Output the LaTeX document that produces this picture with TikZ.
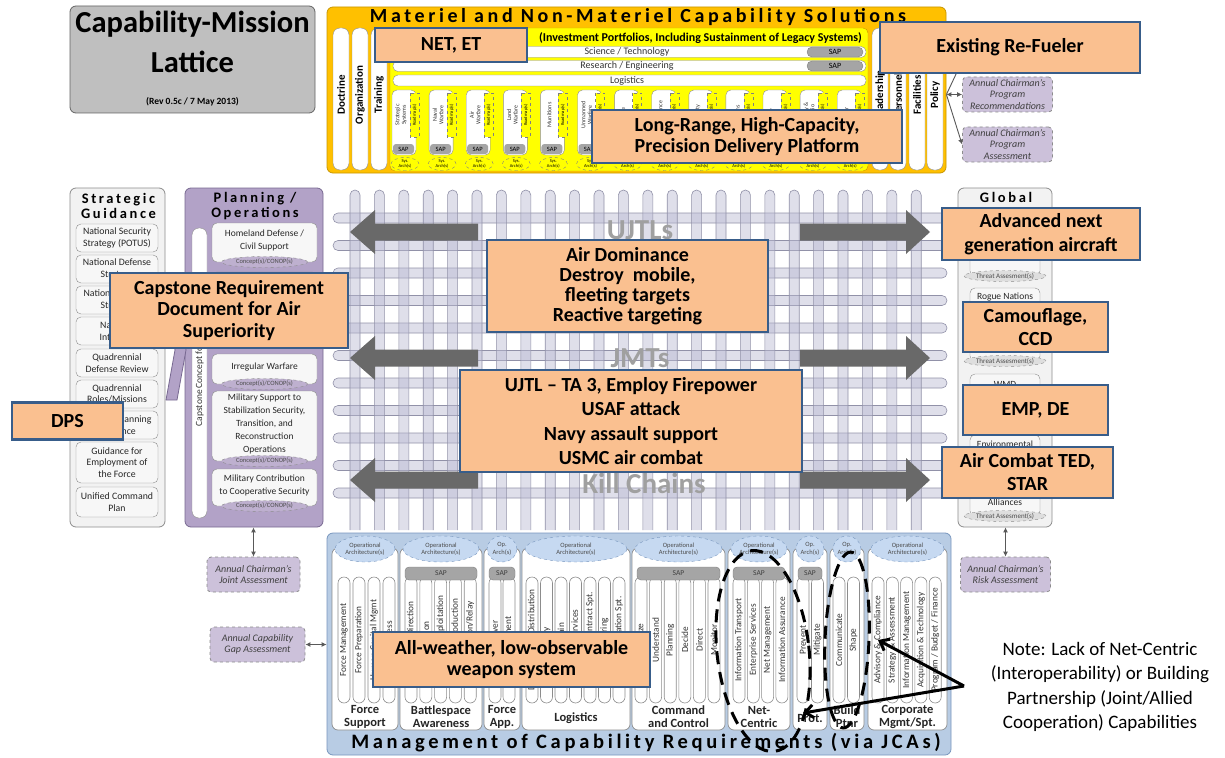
\documentclass[tikz,border=0pt]{standalone}
\usepackage{fontspec}
\setmainfont{Carlito}
\newfontfamily\widefont[LetterSpace=18]{Carlito}
\usetikzlibrary{shapes.geometric,arrows.meta}

\definecolor{titlegray}{RGB}{191,191,191}
\definecolor{titleline}{RGB}{100,100,100}
\definecolor{panelgold}{RGB}{255,192,0}
\definecolor{goldline}{RGB}{200,150,0}
\definecolor{brightyellow}{RGB}{255,255,0}
\definecolor{callfill}{RGB}{250,192,144}
\definecolor{callline}{RGB}{56,93,138}
\definecolor{lav}{RGB}{178,162,199}
\definecolor{lavline}{RGB}{120,105,145}
\definecolor{lavlight}{RGB}{204,193,218}
\definecolor{panelgray}{RGB}{242,242,242}
\definecolor{edgegray}{RGB}{140,140,140}
\definecolor{bluepanel}{RGB}{184,204,228}
\definecolor{blueline}{RGB}{120,150,190}
\definecolor{archblue}{RGB}{198,217,241}
\definecolor{barfill}{RGB}{185,185,210}
\definecolor{barline}{RGB}{145,145,168}
\definecolor{arrowgray}{RGB}{105,105,105}
\definecolor{ghostgray}{RGB}{160,160,160}
\definecolor{sapgray}{RGB}{165,165,165}

\newcommand\fsz[2]{\fontsize{#1}{#2}\selectfont}

\tikzset{
  callout/.style={draw=callline, line width=2.2pt, fill=callfill, align=center, inner sep=0pt, font=\bfseries\fsz{20}{21.5}},
  annual/.style={draw=edgegray, dashed, line width=0.8pt, fill=lavlight, rounded corners=4pt, align=center, inner sep=0pt, minimum width=90pt, minimum height=35pt, font=\itshape\fsz{10}{11.5}, text=black!75},
  sidepanel/.style={draw=edgegray, fill=panelgray, rounded corners=6pt, line width=0.8pt, inner sep=0pt},
  paneltitle/.style={font=\widefont\bfseries\fsz{14.5}{14.5}, align=center, inner sep=0pt},
  item/.style={draw=edgegray, fill=white!97!black, rounded corners=5pt, align=center, inner sep=0pt, font=\fsz{9.8}{11.5}, text=black!85},
  itemtext/.style={align=center, inner sep=0pt, font=\fsz{9.5}{13}, text=black!85},
  concept/.style={ellipse, draw=edgegray, dashed, fill=lav!85, inner sep=0pt, minimum height=11pt, font=\fsz{6.5}{7}, text=black!70},
  tallpill/.style={draw=edgegray, fill=white, inner sep=0pt},
  lattice/.style={draw=barline, fill=barfill, fill opacity=0.45, line width=0.6pt},
  fatarrow/.style={fill=arrowgray, draw=none},
  ghost/.style={text=ghostgray, font=\bfseries\fsz{29}{30}, inner sep=0pt},
  link/.style={draw=black!65, line width=0.9pt, {Latex[length=5pt,width=5pt]}-{Latex[length=5pt,width=5pt]}},
  onelink/.style={draw=black!65, line width=0.9pt, -{Latex[length=5pt,width=5pt]}},
  hoop/.style={draw=black, line width=3pt, dash pattern=on 13pt off 8pt},
  pointer/.style={draw=black, line width=3pt, -{Straight Barb[length=8pt,width=13pt]}},
  colbox/.style={draw=edgegray, fill=white, rounded corners=6pt, line width=0.7pt},
  pillbox/.style={draw=edgegray, fill=white, rounded corners=6pt, line width=0.6pt},
  pilltext/.style={rotate=90, inner sep=0pt, font=\fsz{9.3}{10}, text=black!80},
  sapbar/.style={fill=sapgray, draw=gray, rounded corners=4pt},
  saptext/.style={inner sep=0pt, font=\fsz{7.5}{8}, text=black!75},
  arch/.style={ellipse, draw=blueline, dashed, fill=archblue, inner sep=0pt, minimum height=26pt, align=center, font=\fsz{6.5}{7.5}, text=black!70},
  jcalabel/.style={align=center, inner sep=0pt, font=\bfseries\fsz{12.5}{13}, text=black!85},
}

% one JCA column of the requirements panel
% #1 name, #2 left, #3 right, #4 architecture text, #5 label, #6 SAP flag, #7 first pill, #8 pitch, #9 pill labels
\newcommand\jcacolumn[9]{%
  \draw[colbox] (#2,548) rectangle (#3,730);
  \foreach \lab [count=\k from 0] in {#9}{%
    \draw[pillbox] ({#7+#8*\k},577) rectangle ({#7+#8*\k+12},703);
    \node[pilltext] (#1-p\k) at ({#7+#8*\k+6},640) {\lab};
  }%
  \ifnum#6=1
    \draw[sapbar] ({#2+5},567) rectangle ({#3-5},580);
    \node[saptext] (#1-sap) at ({(#2+#3)/2},573) {SAP};
  \fi
  \node[arch, minimum width={#3-#2-6}] (#1-arch) at ({(#2+#3)/2},549) {#4};
  \node[jcalabel] (#1) at ({(#2+#3)/2},716.5) {#5};
}

% planning / operations entry with its concept ellipse
\newcommand\opitem[5]{%
  \node[item, minimum width=105pt, minimum height={#3-#2}] (#1) at (264.5,{(#2+#3)/2}) {};
  \node[itemtext] (#1-t) at (264.5,#4) {#5};
  \node[concept, minimum width=86pt] (#1-c) at (264.5,#3) {Concept(s)/CONOP(s)};
}

% global threat entry with its assessment ellipse
\newcommand\glitem[5]{%
  \node[item, minimum width=70pt, minimum height={#3-#2}] (#1) at (1005,{(#2+#3)/2}) {};
  \node[itemtext] (#1-t) at (1005,#4) {#5};
  \node[concept, fill=black!13, minimum width=70pt, font=\fsz{7}{7}] (#1-c) at (1005,#3) {Threat Assesment(s)};
}

\newcommand\sgitem[4]{%
  \node[item, minimum width=82pt, minimum height={#3-#2}] (#1) at (117,{(#2+#3)/2}) {#4};
}

\begin{document}
\begin{tikzpicture}[x=1pt,y=-1pt]
\useasboundingbox (0,0) rectangle (1225,757);
\fill[white] (0,0) rectangle (1225,757);

% ---------- title block ----------
\node[draw=titleline, fill=titlegray, rounded corners=6pt, line width=0.8pt, minimum width=245pt, minimum height=107pt, inner sep=0pt] (title) at (192.5,59.5) {};
\node[font=\bfseries\fsz{30.5}{40}, align=center, inner sep=0pt] (titletext) at (192.5,42) {Capability-Mission\\Lattice};
\node[font=\bfseries\fsz{9.5}{10}, inner sep=0pt] (rev) at (192.5,102) {(Rev 0.5c / 7 May 2013)};

% ---------- materiel and non-materiel solutions ----------
\node[draw=goldline, fill=panelgold, rounded corners=6pt, line width=0.8pt, minimum width=619pt, minimum height=166pt, inner sep=0pt] (msol) at (636.5,90) {};
\node[font=\widefont\bfseries\fsz{20}{20}, inner sep=0pt] (msoltitle) at (638,17) {Materiel and Non-Materiel Capability Solutions};

\foreach \nm/\px/\lab in {doc/333/Doctrine, org/352/Organization, trn/371/Training, lde/872/Leadership/Education, per/890/Personnel, fac/909/Facilities, pol/927/Policy}{
  \node[tallpill, rounded corners=7pt, minimum width=16pt, minimum height=142pt] (\nm) at (\px+8,99) {};
  \node[rotate=90, font=\bfseries\fsz{11}{12}, inner sep=0pt] (\nm-t) at (\px+8,95) {\lab};
}

\node[draw=goldline, fill=brightyellow, rounded corners=5pt, minimum width=478pt, minimum height=143pt, inner sep=0pt] (port) at (629,99.5) {};
\node[anchor=east, font=\bfseries\fsz{12}{13}, inner sep=0pt] (porthead) at (862,38) {(Investment Portfolios, Including Sustainment of Legacy Systems)};

\foreach \nm/\yy/\lab/\sap in {sci/52/{Science / Technology}/1, rne/66/{Research / Engineering}/1, lgs/80.5/{Logistics}/0}{
  \node[draw=edgegray, fill=white, rounded corners=5pt, minimum width=473pt, minimum height=11pt, inner sep=0pt] (\nm) at (629.5,\yy) {};
  \node[font=\fsz{10}{10}, inner sep=0pt, text=black!80] (\nm-t) at (627,\yy) {\lab};
  \ifnum\sap=1
    \node[fill=sapgray, draw=gray, rounded corners=5pt, minimum width=56pt, minimum height=10pt, inner sep=0pt, font=\fsz{8}{8}] (\nm-sap) at (835,\yy) {SAP};
  \fi
}

\foreach \lab [count=\k from 0] in {{Strategic\\Systems},{Naval\\Warfare},{Air\\Warfare},{Land\\Warfare},{Munitions},{Unmanned\\Warfare},{Space},{Intelligence},{Mobility},{C4\\Systems},{Cyber},{Mobility \&\\Portfolio},{Other}}{
  \pgfmathsetmacro\px{392+37.1*\k}
  \draw[draw=edgegray, fill=white, rounded corners=5pt] (\px,90) rectangle (\px+24,155);
  \draw[draw=gray, dashed, fill=brightyellow] (\px+18,93) rectangle (\px+27,137);
  \node[rotate=90, font=\fsz{4.5}{5}, inner sep=0pt] (rm\k) at (\px+22.5,115) {Roadmap(s)};
  \node[rotate=90, align=center, font=\fsz{6}{6.5}, inner sep=0pt, text=black!80] (pf\k) at (\px+9,115) {\lab};
  \node[fill=sapgray, rounded corners=3pt, minimum width=21pt, minimum height=10pt, inner sep=0pt, font=\fsz{6.5}{7}] (pfs\k) at (\px+11.5,149) {SAP};
  \node[ellipse, draw=gray, dashed, fill=brightyellow, minimum width=28pt, minimum height=13pt, inner sep=0pt, align=center, font=\fsz{4.5}{5}] (pfa\k) at (\px+13,164) {Sys.\\Arch(s)};
}

% ---------- annual program boxes (upper right) ----------
\node[annual] (arec) at (1007.5,94.5) {Annual Chairman's\\Program\\Recommendations};
\node[annual] (aass) at (1007.5,144.5) {Annual Chairman's\\Program\\Assessment};
\coordinate (hidbox) at (957,72);
\draw[link] (msol.east |- arec.west) -- (arec.west);
\draw[onelink] (msol.east |- arec.west) -- (aass.west);
\draw[draw=black!65, line width=0.9pt] (msol.east |- arec.west) -- (hidbox);

% ---------- strategic guidance ----------
\node[sidepanel, minimum width=95pt, minimum height=339pt] (sg) at (117.5,357.5) {};
\node[paneltitle] (sgt) at (118.5,206) {Strategic\\Guidance};
\sgitem{s1}{224}{252}{National Security\\Strategy (POTUS)}
\sgitem{s2}{255}{283}{National Defense\\Strategy}
\sgitem{s3}{286}{314}{National Military\\Strategy}
\sgitem{s4}{317}{345}{National\\Interests}
\sgitem{s5}{349}{377}{Quadrennial\\Defense Review}
\sgitem{s6}{380}{408}{Quadrennial\\Roles/Missions}
\sgitem{s7}{411}{439}{Defense Planning\\Guidance}
\sgitem{s8}{442}{483}{Guidance for\\Employment of\\the Force}
\sgitem{s9}{487}{517}{Unified Command\\Plan}

% ---------- planning / operations ----------
\node[sidepanel, fill=lav, draw=lavline, minimum width=138pt, minimum height=339pt] (po) at (254,357.5) {};
\node[paneltitle] (pot) at (255,206) {Planning /\\Operations};
\node[tallpill, rounded corners=7pt, minimum width=15pt, minimum height=290pt] (ccjo) at (199.5,373) {};
\node[rotate=90, inner sep=0pt, font=\fsz{9.5}{10}, text=black!80] (ccjo-t) at (199.5,352) {Capstone Concept for Joint Operations};
\opitem{po1}{223}{262}{240}{Homeland Defense /\\Civil Support}
\opitem{po2}{272}{342}{305}{Major Combat\\Operations}
\opitem{po3}{354}{384}{367}{Irregular Warfare}
\opitem{po4}{391}{461}{424}{Military Support to\\Stabilization Security,\\Transition, and\\Reconstruction\\Operations}
\opitem{po5}{469}{506}{485}{Military Contribution\\to Cooperative Security}
\filldraw[fill=lav, draw=lavline, line width=0.8pt] (166,300) -- (177,300) -- (186,350) -- (177,400) -- (166,400) -- (175,350) -- cycle;

% ---------- global ----------
\node[sidepanel, minimum width=94pt, minimum height=339pt] (gl) at (1005,357.5) {};
\node[paneltitle] (glt) at (1006,197) {Global};
\glitem{g1}{212}{276}{250}{Near-Peer\\Competitors}
\glitem{g2}{288}{361}{297}{Rogue Nations}
\glitem{g3}{374}{424}{384}{WMD}
\glitem{g4}{435}{478}{444}{Environmental}
\glitem{g5}{484}{516}{502}{Alliances}

% ---------- woven lattice ----------
\foreach \k in {0,...,10}{
  \pgfmathsetmacro\ry{218+27.5*\k}
  \draw[lattice, rounded corners=5pt] (333,\ry-5) rectangle (947,\ry+5);
}
\foreach \k in {0,...,23}{
  \pgfmathsetmacro\cx{355+24.4*\k}
  \draw[lattice, rounded corners=5pt] (\cx-5,530) -- (\cx-5,190) -- (\cx+5,190) -- (\cx+5,530);
}
\node[ghost] (ujtl) at (640,230) {UJTLs};
\node[ghost] (jmt) at (640,358) {JMTs};
\node[ghost] (kill) at (644,483) {Kill Chains};
\foreach \cy in {232,358,480}{
  \fill[fatarrow] (350,\cy) -- (375,\cy-22) -- (375,\cy-8.5) -- (478,\cy-8.5) -- (478,\cy+8.5) -- (375,\cy+8.5) -- (375,\cy+22) -- cycle;
  \fill[fatarrow] (930,\cy) -- (906,\cy-22) -- (906,\cy-8.5) -- (800,\cy-8.5) -- (800,\cy+8.5) -- (906,\cy+8.5) -- (906,\cy+22) -- cycle;
}

% ---------- management of capability requirements ----------
\node[draw=blueline, fill=bluepanel, rounded corners=6pt, line width=0.8pt, minimum width=624pt, minimum height=222pt, inner sep=0pt] (mcr) at (639,644) {};
\node[font=\widefont\bfseries\fsz{20.5}{20.5}, inner sep=0pt] (mcrtitle) at (646,743) {Management of Capability Requirements (via JCAs)};
\jcacolumn{fs}{332}{398}{Operational\\Architecture(s)}{Force\\Support}{0}{338}{15}{Force Management,Force Preparation,Human Capital Mgmt,Readiness}
\jcacolumn{ba}{400}{482}{Operational\\Architecture(s)}{Battlespace\\Awareness}{1}{405}{14.8}{Planning \& Direction,Collection,Processing/Exploitation,Analysis \& Production,Dissemination/Relay}
\jcacolumn{fa}{484}{520}{Op.\\Arch(s)}{Force\\App.}{1}{489}{14}{Maneuver,Engagement}
\jcacolumn{lg}{522}{630}{Operational\\Architecture(s)}{~\\Logistics}{0}{526}{14.5}{Deployment \& Distribution,Supply,Maintain,Logistic Services,Operational Contract Spt.,Engineering,Base \& Installation Spt.}
\jcacolumn{cc}{632}{725}{Operational\\Architecture(s)}{Command\\and Control}{1}{635}{14.6}{Organize,Understand,Planning,Decide,Direct,Monitor}
\jcacolumn{nc}{728}{790}{Operational\\Architecture(s)}{Net-\\Centric}{1}{733}{14.3}{Information Transport,Enterprise Services,Net Management,Information Assurance}
\jcacolumn{pt}{793}{827}{Op.\\Arch(s)}{~\\Prot.}{1}{797}{14.5}{Prevent,Mitigate}
\jcacolumn{bp}{830}{864}{Op.\\Arch(s)}{Build\\Ptnr}{0}{833}{14.5}{Communicate,Shape}
\jcacolumn{cm}{868}{947}{Operational\\Architecture(s)}{Corporate\\Mgmt/Spt.}{0}{872}{14.3}{Advisory \& Compliance,Strategy \& Assessment,Information Management,Acquisition \& Technology,Program / Budget / Finance}

% ---------- annual assessments ----------
\node[annual, minimum width=93pt] (ajoint) at (253.5,574.5) {Annual Chairman's\\Joint Assessment};
\node[annual, minimum width=95pt] (agap) at (257.5,644.5) {Annual Capability\\Gap Assessment};
\node[annual] (arisk) at (1005.5,574.5) {Annual Chairman's\\Risk Assessment};
\draw[link] (ajoint.north) -- (ajoint.north |- po.south);
\draw[link] (agap.east) -- (agap.east -| mcr.west);
\draw[link] (arisk.north) -- (arisk.north |- gl.south);

% ---------- gap highlights ----------
\draw[hoop, rotate around={6.5:(763,651)}] (763,651) ellipse [x radius=46, y radius=101];
\draw[hoop, rotate around={-2.5:(847,640)}] (847,640) ellipse [x radius=22, y radius=88];
\node[align=center, inner sep=0pt, font=\fsz{19}{24.5}] (note) at (1100,687) {Note: Lack of Net-Centric\\(Interoperability) or Building\\Partnership (Joint/Allied\\Cooperation) Capabilities};
\coordinate (fork) at (964,686);
\coordinate (prottip) at (803,713);
\coordinate (corptip) at (878,640);
\draw[pointer] (fork) -- (prottip);
\draw[pointer] (fork) -- (corptip);

% ---------- callouts ----------
\node[callout, minimum width=152pt, minimum height=34pt] (netet) at (451,45) {NET, ET};
\node[callout, minimum width=260pt, minimum height=51pt] (refuel) at (1010,47.5) {Existing Re-Fueler};
\node[callout, minimum width=310pt, minimum height=53pt] (lrhc) at (747,136.5) {Long-Range, High-Capacity,\\Precision Delivery Platform};
\node[callout, minimum width=198pt, minimum height=52pt, font=\bfseries\fsz{20}{24}] (adv) at (1041,234) {Advanced next\\generation aircraft};
\node[callout, minimum width=281pt, minimum height=92pt, font=\bfseries\fsz{20}{20}] (airdom) at (627.5,286) {Air Dominance\\Destroy\ \ mobile,\\fleeting targets\\Reactive targeting};
\node[callout, minimum width=238pt, minimum height=75pt] (crd) at (229,310.5) {Capstone Requirement\\Document for Air\\Superiority};
\node[callout, minimum width=145pt, minimum height=50pt, font=\bfseries\fsz{20}{23}] (camo) at (1035.5,327) {Camouflage,\\CCD};
\node[callout, minimum width=342pt, minimum height=102pt, font=\bfseries\fsz{20}{24.5}] (ujtlbox) at (631,421) {UJTL -- TA 3, Employ Firepower\\USAF attack\\Navy assault support\\USMC air combat};
\node[callout, minimum width=145pt, minimum height=50pt] (emp) at (1035.5,410) {EMP, DE};
\node[callout, minimum width=111pt, minimum height=37pt] (dps) at (67.5,421) {DPS};
\node[callout, minimum width=171pt, minimum height=51pt, font=\bfseries\fsz{20}{23}] (acted) at (1027.5,472.5) {Air Combat TED,\\STAR};
\node[callout, minimum width=277pt, minimum height=55pt] (allw) at (511.5,659.5) {All-weather, low-observable\\weapon system};
\end{tikzpicture}
\end{document}
